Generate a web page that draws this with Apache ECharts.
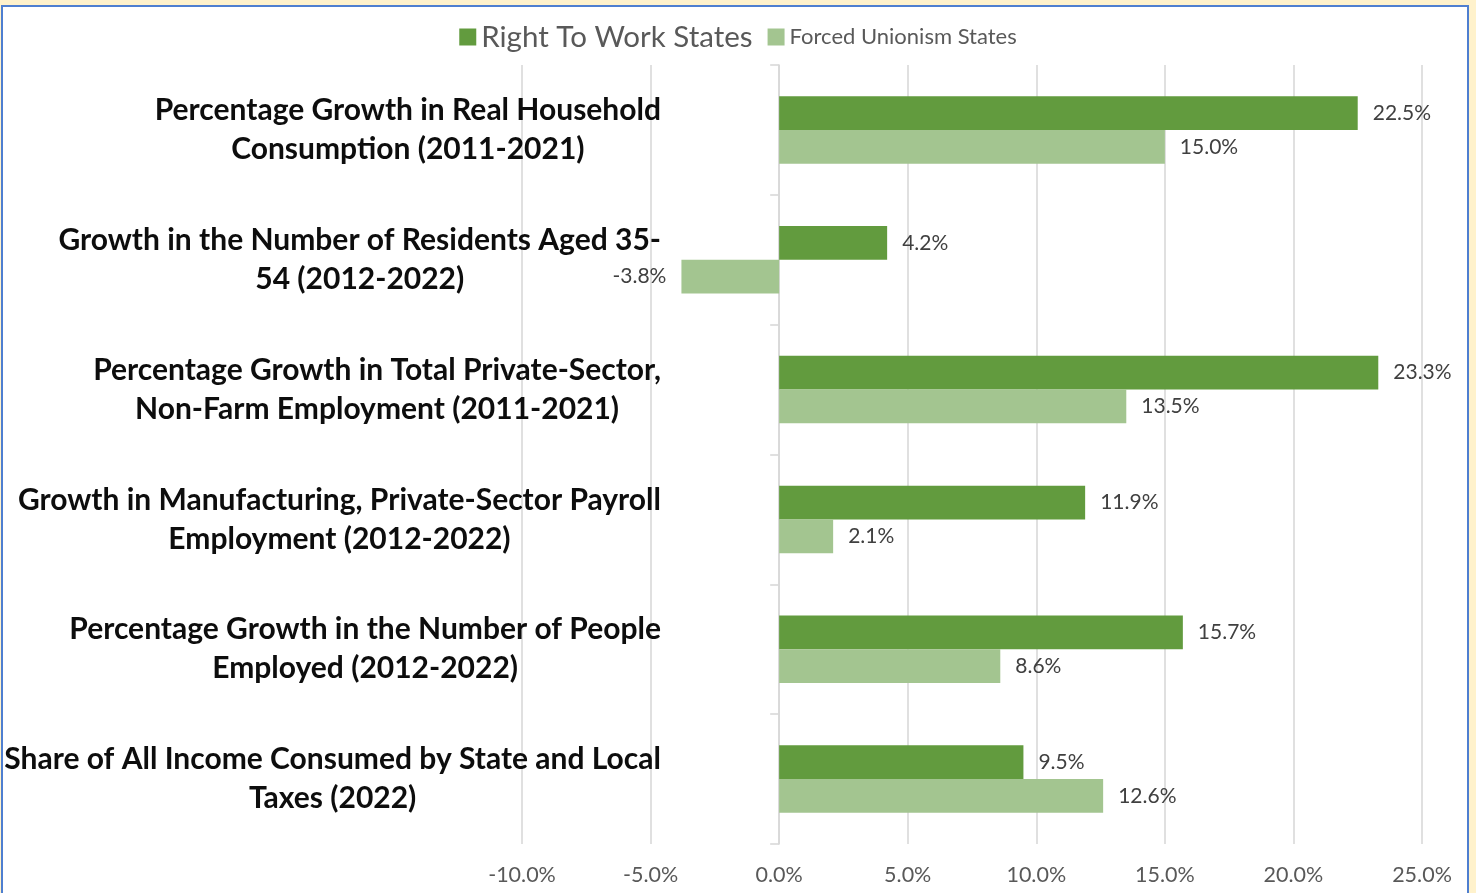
<!DOCTYPE html>
<html>
<head>
<meta charset="utf-8">
<script src="https://cdn.jsdelivr.net/npm/echarts@6/dist/echarts.min.js"></script>
<style>
  html, body { margin: 0; padding: 0; width: 1476px; height: 893px; overflow: hidden; background: #FFF2CC; }
  #frame { position: absolute; left: 1px; top: 5px; width: 1464px; height: 920px; background: #ffffff; border: 2px solid #4F7FD0; }
  #chart { position: absolute; left: 0; top: 0; width: 1476px; height: 893px; }
</style>
</head>
<body>
<div id="frame"></div>
<div id="chart"></div>
<script>
const categories = [
  'Percentage Growth in Real Household\nConsumption (2011-2021)',
  'Growth in the Number of Residents Aged 35-\n54 (2012-2022)',
  'Percentage Growth in Total Private-Sector,\nNon-Farm Employment (2011-2021)',
  'Growth in Manufacturing, Private-Sector Payroll\nEmployment (2012-2022)',
  'Percentage Growth in the Number of People\nEmployed (2012-2022)',
  'Share of All Income Consumed by State and Local\nTaxes (2022)'
];
const seriesNames = ['Right To Work States', 'Forced Unionism States'];
const rightToWork = [22.5, 4.2, 23.3, 11.9, 15.7, 9.5];
const forcedUnionism = [15.0, -3.8, 13.5, 2.1, 8.6, 12.6];
const xTicks = { min: -10, max: 25, interval: 5 };

const FONT = 'Lato';
const pct = v => v.toFixed(1) + '%';

function toData(arr) {
  return arr.map(v => ({
    value: v,
    label: { position: v < 0 ? 'left' : 'right' }
  }));
}

const chart = echarts.init(document.getElementById('chart'), null, { renderer: 'canvas' });
chart.setOption({
  animation: false,
  backgroundColor: 'transparent',
  textStyle: { fontFamily: FONT },
  legend: {
    top: 17,
    left: 'center',
    itemWidth: 17,
    itemHeight: 17,
    itemGap: 15,
    icon: 'rect',
    data: [
      { name: seriesNames[0], textStyle: { fontSize: 29.5, color: '#595959', fontFamily: FONT } },
      { name: seriesNames[1], textStyle: { fontSize: 22, color: '#595959', fontFamily: FONT } }
    ]
  },
  grid: { left: 522, right: 54, top: 65, bottom: 49, containLabel: false, outerBoundsMode: 'none' },
  xAxis: {
    type: 'value',
    min: xTicks.min,
    max: xTicks.max,
    interval: xTicks.interval,
    axisLine: { show: false },
    axisTick: { show: false },
    splitLine: { show: true, lineStyle: { color: '#D9D9D9', width: 1.6 } },
    axisLabel: {
      formatter: v => pct(v),
      color: '#595959',
      fontSize: 21.5,
      fontFamily: FONT,
      margin: 20
    }
  },
  yAxis: {
    type: 'category',
    inverse: true,
    data: categories,
    axisLine: { show: true, onZero: true, lineStyle: { color: '#D9D9D9', width: 1.6 } },
    axisTick: { show: true, length: 9, lineStyle: { color: '#D9D9D9', width: 1.6 } },
    splitLine: { show: false },
    axisLabel: {
      margin: -139,
      align: 'right',
      formatter: v => v.split('\n').map(s => '{c|' + s + '}').join('\n'),
      rich: {
        c: {
          align: 'center',
          fontSize: 30,
          fontWeight: 'bold',
          color: '#0D0D0D',
          fontFamily: FONT,
          lineHeight: 39
        }
      }
    }
  },
  series: [
    {
      name: seriesNames[0],
      type: 'bar',
      data: toData(rightToWork),
      itemStyle: { color: '#629B3E' },
      barGap: '0%',
      barCategoryGap: '48%',
      label: {
        show: true,
        formatter: p => pct(p.value),
        color: '#404040',
        fontSize: 21,
        fontFamily: FONT,
        distance: 15
      }
    },
    {
      name: seriesNames[1],
      type: 'bar',
      data: toData(forcedUnionism),
      itemStyle: { color: '#A3C590' },
      barGap: '0%',
      barCategoryGap: '48%',
      label: {
        show: true,
        formatter: p => pct(p.value),
        color: '#404040',
        fontSize: 21,
        fontFamily: FONT,
        distance: 15
      }
    }
  ]
});
</script>
</body>
</html>
